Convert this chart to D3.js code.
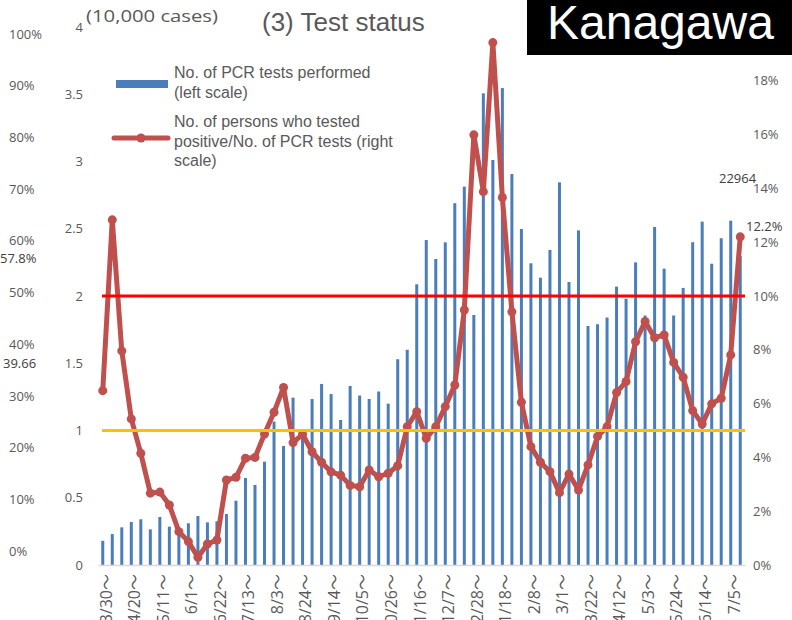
<!DOCTYPE html>
<html>
<head>
<meta charset="utf-8">
<script src="https://cdn.jsdelivr.net/npm/d3@7/dist/d3.min.js"></script>
<style>
body { margin: 0; background: #fff; }
text { font-family: "Open Sans", "Noto Sans CJK JP", sans-serif; fill: #595959; }
</style>
</head>
<body>
<div id="chart"></div>
<script>
// weekly categories, 3/30 (2020) .. 7/12 (2021)
var weeks = ["3/30","4/6","4/13","4/20","4/27","5/4","5/11","5/18","5/25","6/1","6/8","6/15","6/22","6/29",
  "7/6","7/13","7/20","7/27","8/3","8/10","8/17","8/24","8/31","9/7","9/14","9/21","9/28","10/5","10/12",
  "10/19","10/26","11/2","11/9","11/16","11/23","11/30","12/7","12/14","12/21","12/28","1/4","1/11","1/18",
  "1/25","2/1","2/8","2/15","2/22","3/1","3/8","3/15","3/22","3/29","4/5","4/12","4/19","4/26","5/3","5/10",
  "5/17","5/24","5/31","6/7","6/14","6/21","6/28","7/5","7/12"];

// PCR tests per week (10,000 cases)
var tests = [0.18,0.23,0.28,0.32,0.34,0.265,0.357,0.285,0.22,0.31,0.364,0.317,0.325,0.379,
  0.478,0.647,0.595,0.768,1.066,0.885,1.244,1.009,1.234,1.346,1.271,1.078,1.331,1.26,1.234,
  1.29,1.2,1.53,1.6,2.087,2.416,2.275,2.399,2.69,2.813,1.859,3.507,3.011,3.546,
  2.907,2.498,2.243,2.136,2.342,2.845,2.104,2.488,1.777,1.79,1.84,2.07,1.98,2.25,1.855,2.513,
  2.203,1.855,2.06,2.4,2.553,2.24,2.429,2.56,2.2964];

// positives / PCR tests (%)
var positiveRate = [6.48,12.83,7.96,5.43,4.15,2.67,2.71,2.23,1.24,0.87,0.29,0.78,0.93,3.16,
  3.26,3.97,4.0,4.87,5.68,6.6,4.55,4.86,4.21,3.82,3.46,3.34,2.96,2.91,3.53,
  3.28,3.41,3.69,5.14,5.7,4.71,5.14,5.89,6.69,9.48,15.99,13.88,19.42,13.66,
  9.41,6.05,4.4,3.82,3.47,2.69,3.38,2.79,3.72,4.78,5.14,6.41,6.82,8.3,9.05,8.45,
  8.55,7.53,6.98,5.74,5.24,5.99,6.2,7.81,12.2];

var leftTicks = [0,0.5,1,1.5,2,2.5,3,3.5,4];
var rightTicks = [0,2,4,6,8,10,12,14,16,18];
var outerTicks = [0,10,20,30,40,50,60,70,80,90,100];
var thresholds = [{v: 10, color: "#ff0000"}, {v: 5, color: "#ffc000"}];

var width = 792, height = 620;

var svg = d3.select("#chart").append("svg")
  .attr("width", width)
  .attr("height", height);

var x = d3.scaleBand().domain(weeks).range([98, 745]);
var yLeft = d3.scaleLinear().domain([0, 4]).range([565, 27]);
var yRight = d3.scaleLinear().domain([0, 20]).range([565, 27]);
var yOuter = d3.scaleLinear().domain([0, 100]).range([551, 34]);

function cleanAxis(g) {
  g.select(".domain").remove();
  g.attr("font-family", null).attr("font-size", 13);
  g.selectAll("text").style("fill", "#595959");
}

// far left percent scale
svg.append("g")
  .attr("transform", "translate(9,0)")
  .call(d3.axisRight(yOuter).tickValues(outerTicks).tickSize(0).tickPadding(0)
    .tickFormat(function(d) { return d + "%"; }))
  .call(cleanAxis);

// left scale
svg.append("g")
  .attr("transform", "translate(83,0)")
  .call(d3.axisLeft(yLeft).tickValues(leftTicks).tickSize(0).tickPadding(0)
    .tickFormat(function(d) { return d; }))
  .call(cleanAxis);

// right scale
svg.append("g")
  .attr("transform", "translate(753,0)")
  .call(d3.axisRight(yRight).tickValues(rightTicks).tickSize(0).tickPadding(0)
    .tickFormat(function(d) { return d + "%"; }))
  .call(cleanAxis);

// bars
svg.append("g").selectAll("rect")
  .data(tests)
  .enter().append("rect")
  .attr("x", function(d, i) { return x(weeks[i]) + x.bandwidth() / 2 - 1.5; })
  .attr("y", function(d) { return yLeft(d); })
  .attr("width", 3)
  .attr("height", function(d) { return yLeft(0) - yLeft(d); })
  .attr("fill", "#4a7ebb");

// x axis
var xAxis = svg.append("g")
  .attr("transform", "translate(0,565)")
  .call(d3.axisBottom(x).tickValues(weeks.filter(function(d, i) { return i % 3 == 0; }))
    .tickSize(0).tickFormat(function(d) { return d + "～"; }));
xAxis.attr("font-family", null).attr("font-size", 16);
xAxis.select(".domain").attr("stroke", "#d9d9d9").attr("stroke-width", 1.5);
xAxis.selectAll("text")
  .style("fill", "#595959")
  .attr("transform", "rotate(-90)")
  .attr("text-anchor", "end")
  .attr("x", -9)
  .attr("y", 0)
  .attr("dy", "0.55em");

// positive rate line
var line = d3.line()
  .x(function(d, i) { return x(weeks[i]) + x.bandwidth() / 2; })
  .y(function(d) { return yRight(d); });

svg.append("path")
  .datum(positiveRate)
  .attr("d", line)
  .attr("fill", "none")
  .attr("stroke", "#c0504d")
  .attr("stroke-width", 5)
  .attr("stroke-linejoin", "round");

svg.append("g").selectAll("circle")
  .data(positiveRate)
  .enter().append("circle")
  .attr("cx", function(d, i) { return x(weeks[i]) + x.bandwidth() / 2; })
  .attr("cy", function(d) { return yRight(d); })
  .attr("r", 4.5)
  .attr("fill", "#c0504d");

// threshold lines
svg.append("g").selectAll("line")
  .data(thresholds)
  .enter().append("line")
  .attr("x1", 102)
  .attr("x2", 745)
  .attr("y1", function(d) { return yRight(d.v); })
  .attr("y2", function(d) { return yRight(d.v); })
  .attr("stroke", function(d) { return d.color; })
  .attr("stroke-width", 3);

// labels
svg.append("text").attr("x", 86).attr("y", 22).attr("font-size", 16)
  .attr("textLength", 132).attr("lengthAdjust", "spacingAndGlyphs").text("(10,000 cases)");
svg.append("text").attr("x", 262).attr("y", 31)
  .style("font-family", "'Liberation Sans', Arial, sans-serif")
  .attr("font-size", 26).text("(3) Test status");

svg.append("rect").attr("x", 527).attr("y", 0).attr("width", 265).attr("height", 55).attr("fill", "#000");
svg.append("text").attr("x", 547).attr("y", 39)
  .style("font-family", "'Liberation Sans', Arial, sans-serif")
  .style("fill", "#fff")
  .attr("font-size", 48).text("Kanagawa");

svg.append("text").attr("x", 0).attr("y", 263).attr("font-size", 13).style("fill", "#404040").text("57.8%");
svg.append("text").attr("x", 3).attr("y", 368).attr("font-size", 13).style("fill", "#404040").text("39.66");
svg.append("text").attr("x", 719).attr("y", 183).attr("font-size", 13).style("fill", "#404040").text("22964");
svg.append("text").attr("x", 746).attr("y", 231).attr("font-size", 13).style("fill", "#404040").text("12.2%");

// legend
var legend = svg.append("g").style("font-family", "'Liberation Sans', Arial, sans-serif");
legend.append("rect").attr("x", 116).attr("y", 80).attr("width", 52).attr("height", 8).attr("fill", "#4a7ebb");
legend.append("line").attr("x1", 114).attr("x2", 168).attr("y1", 138).attr("y2", 138)
  .attr("stroke", "#c0504d").attr("stroke-width", 5).attr("stroke-linecap", "round");
legend.append("circle").attr("cx", 141).attr("cy", 138).attr("r", 4.5).attr("fill", "#c0504d");

var legendLines = [
  ["No. of PCR tests performed", 78],
  ["(left scale)", 98],
  ["No. of persons who tested", 127],
  ["positive/No. of PCR tests (right", 147],
  ["scale)", 166]
];
legend.selectAll("text.leg")
  .data(legendLines)
  .enter().append("text")
  .attr("class", "leg")
  .attr("x", 174)
  .attr("y", function(d) { return d[1]; })
  .attr("font-size", 16)
  .style("font-family", "'Liberation Sans', Arial, sans-serif")
  .text(function(d) { return d[0]; });
</script>
</body>
</html>
